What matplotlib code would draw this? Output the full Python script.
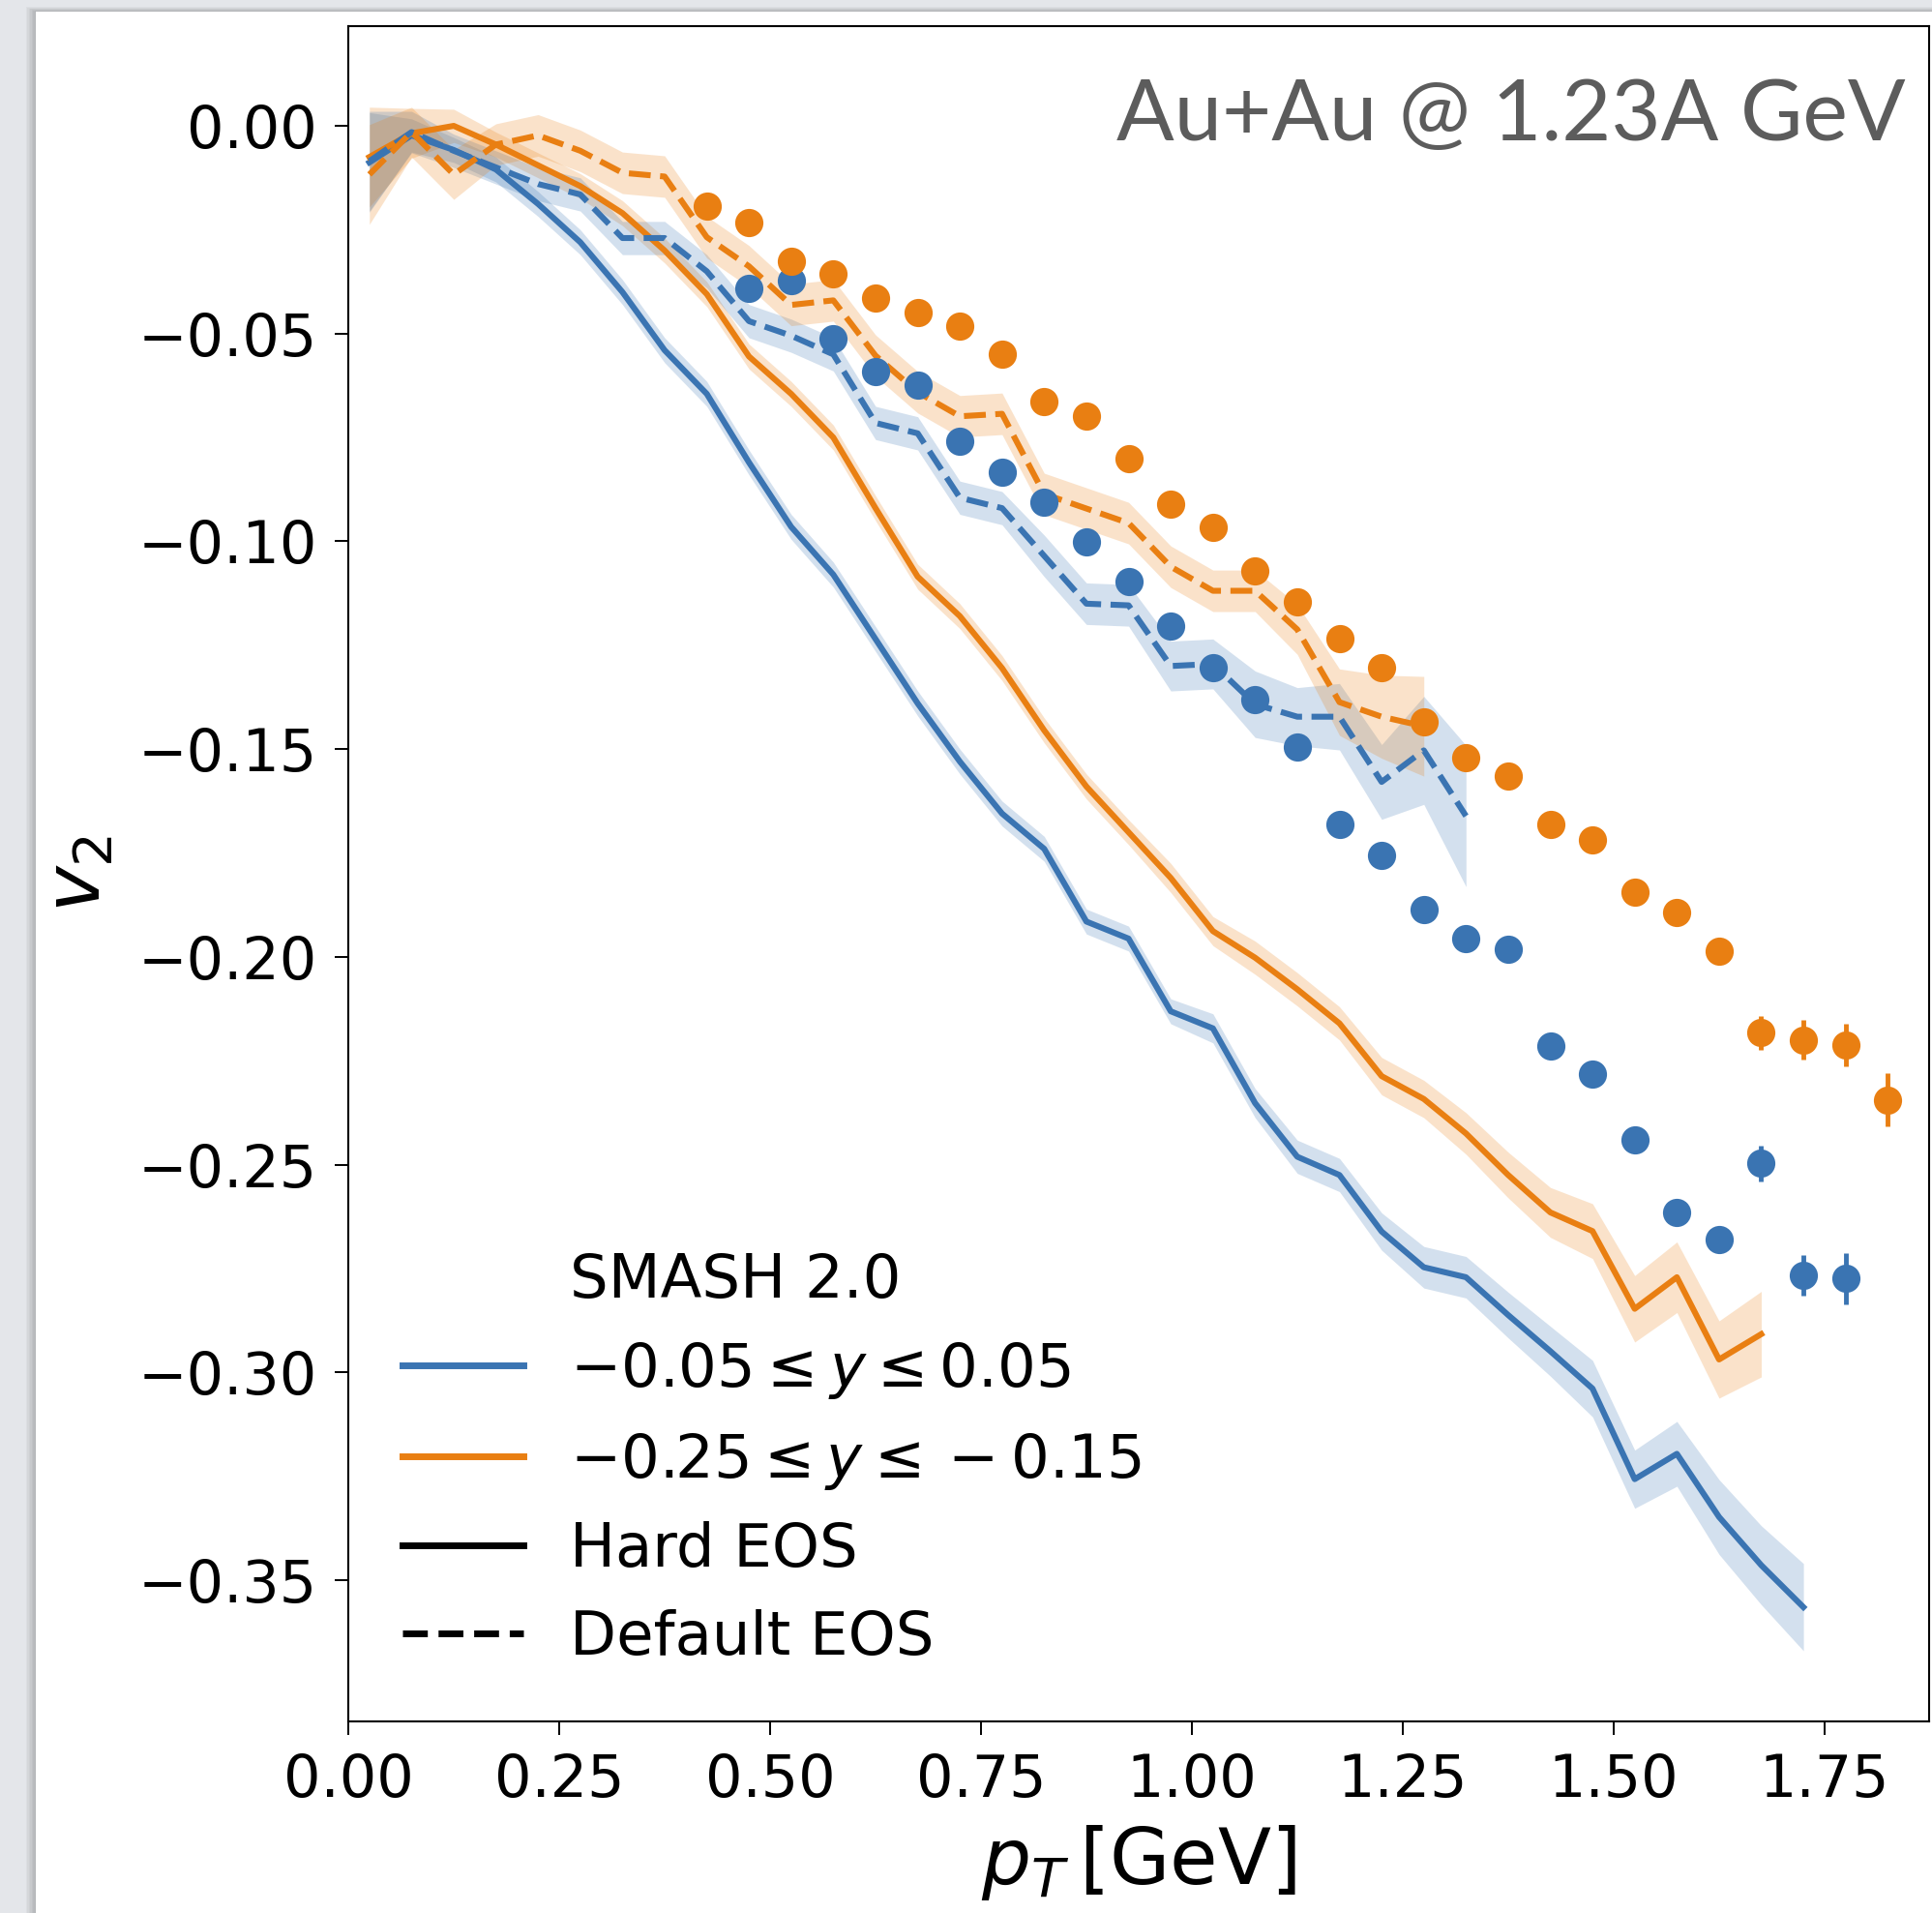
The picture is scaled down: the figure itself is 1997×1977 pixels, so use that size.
import matplotlib
matplotlib.use('Agg')
import matplotlib.pyplot as plt
from matplotlib.lines import Line2D
from matplotlib.patches import Rectangle

# colours
BLUE = '#3a74b2'
ORANGE = '#e97f12'

# pT bins of the SMASH curves [GeV]
pt = [0.025, 0.075, 0.125, 0.175, 0.225, 0.275, 0.325, 0.375, 0.425, 0.475,
      0.525, 0.575, 0.625, 0.675, 0.725, 0.775, 0.825, 0.875, 0.925, 0.975,
      1.025, 1.075, 1.125, 1.175, 1.225, 1.275, 1.325, 1.375, 1.425, 1.475,
      1.525, 1.575, 1.625, 1.675, 1.725]

# SMASH, hard EOS, -0.05 <= y <= 0.05
blue_hard = [-0.0088, -0.0023, -0.0058, -0.0105, -0.0188, -0.028, -0.040, -0.054, -0.0645, -0.081,
             -0.0965, -0.108, -0.1235, -0.139, -0.153, -0.1655, -0.174, -0.1915, -0.1956, -0.2131,
             -0.2172, -0.2352, -0.2481, -0.2525, -0.2661, -0.2747, -0.2771, -0.2862, -0.2949, -0.3039,
             -0.3257, -0.3196, -0.3348, -0.3464, -0.3565]
blue_hard_err = [0.012, 0.004, 0.003, 0.003, 0.003, 0.003, 0.003, 0.003, 0.003, 0.003,
                 0.003, 0.003, 0.003, 0.003, 0.003, 0.003, 0.003, 0.003, 0.003, 0.003,
                 0.0035, 0.0035, 0.004, 0.004, 0.0045, 0.005, 0.005, 0.0055, 0.006, 0.0068,
                 0.007, 0.0078, 0.009, 0.0095, 0.0105]

# SMASH, hard EOS, -0.25 <= y <= -0.15
orange_hard = [-0.0075, -0.0018, 0.0000, -0.0045, -0.0095, -0.0145, -0.021, -0.030, -0.0405, -0.0555,
               -0.0645, -0.075, -0.092, -0.1085, -0.118, -0.1305, -0.1455, -0.159, -0.170, -0.181,
               -0.1938, -0.2002, -0.2078, -0.216, -0.2287, -0.2342, -0.2425, -0.2525, -0.2615, -0.266,
               -0.2847, -0.2771, -0.2969, -0.2908]
orange_hard_err = [0.012, 0.006, 0.004, 0.003, 0.003, 0.003, 0.003, 0.003, 0.003, 0.003,
                   0.003, 0.003, 0.003, 0.003, 0.003, 0.003, 0.003, 0.003, 0.003, 0.0035,
                   0.0035, 0.004, 0.004, 0.004, 0.0045, 0.0045, 0.005, 0.0055, 0.006, 0.0066,
                   0.008, 0.0085, 0.0093, 0.0103]

# SMASH, default EOS, -0.05 <= y <= 0.05
blue_default = [-0.0085, -0.0015, -0.006, -0.010, -0.014, -0.0165, -0.027, -0.027, -0.035, -0.047,
                -0.0505, -0.055, -0.0715, -0.074, -0.0895, -0.092, -0.1035, -0.115, -0.1154, -0.1300,
                -0.1295, -0.1392, -0.1422, -0.1422, -0.1579, -0.1503, -0.1661]
blue_default_err = [0.012, 0.005, 0.004, 0.004, 0.004, 0.004, 0.004, 0.004, 0.004, 0.004,
                    0.004, 0.004, 0.004, 0.004, 0.004, 0.004, 0.005, 0.005, 0.005, 0.006,
                    0.006, 0.008, 0.007, 0.008, 0.009, 0.013, 0.017]

# SMASH, default EOS, -0.25 <= y <= -0.15
orange_default = [-0.0117, -0.0015, -0.0117, -0.0045, -0.0023, -0.006, -0.0113, -0.0122, -0.0268, -0.0338,
                  -0.0431, -0.0420, -0.0553, -0.0641, -0.0699, -0.0693, -0.0886, -0.0921, -0.0956, -0.1061,
                  -0.1119, -0.1119, -0.1212, -0.1387, -0.1422, -0.1445]
orange_default_err = [0.012, 0.006, 0.006, 0.005, 0.005, 0.005, 0.005, 0.005, 0.005, 0.005,
                      0.005, 0.005, 0.005, 0.005, 0.005, 0.005, 0.005, 0.005, 0.005, 0.005,
                      0.005, 0.005, 0.006, 0.008, 0.010, 0.012]

# measured points
blue_pt = [0.475, 0.525, 0.575, 0.625, 0.675, 0.725, 0.775, 0.825, 0.875, 0.925,
           0.975, 1.025, 1.075, 1.125, 1.175, 1.225, 1.275, 1.325, 1.375, 1.425,
           1.475, 1.525, 1.575, 1.625, 1.675, 1.725, 1.775]
blue_v2 = [-0.0390, -0.0373, -0.0513, -0.0592, -0.0624, -0.0758, -0.0833, -0.0906, -0.1002, -0.1096,
           -0.1204, -0.1305, -0.1381, -0.1494, -0.1681, -0.1756, -0.1886, -0.1955, -0.1981, -0.2214,
           -0.2282, -0.2440, -0.2615, -0.2681, -0.2497, -0.2766, -0.2774]
blue_v2_err = [0.0015, 0.0015, 0.0015, 0.0015, 0.0015, 0.0015, 0.0015, 0.0015, 0.0015, 0.0015,
               0.0015, 0.0015, 0.0015, 0.0015, 0.0015, 0.0015, 0.0015, 0.0015, 0.002, 0.002,
               0.002, 0.0025, 0.0025, 0.003, 0.0043, 0.0049, 0.0062]

orange_pt = [0.425, 0.475, 0.525, 0.575, 0.625, 0.675, 0.725, 0.775, 0.825, 0.875,
             0.925, 0.975, 1.025, 1.075, 1.125, 1.175, 1.225, 1.275, 1.325, 1.375,
             1.425, 1.475, 1.525, 1.575, 1.625, 1.675, 1.725, 1.775, 1.825]
orange_v2 = [-0.0192, -0.0233, -0.0326, -0.0355, -0.0414, -0.0449, -0.0481, -0.0550, -0.0664, -0.0699,
             -0.0801, -0.0911, -0.0967, -0.1070, -0.1145, -0.1235, -0.1303, -0.1434, -0.1520, -0.1564,
             -0.1682, -0.1718, -0.1844, -0.1892, -0.1987, -0.2183, -0.2200, -0.2212, -0.2344]
orange_v2_err = [0.0015, 0.0015, 0.0015, 0.0015, 0.0015, 0.0015, 0.0015, 0.0015, 0.0015, 0.0015,
                 0.0015, 0.0015, 0.0015, 0.0015, 0.0015, 0.0015, 0.0015, 0.0015, 0.002, 0.002,
                 0.002, 0.002, 0.0025, 0.0025, 0.003, 0.004, 0.0048, 0.0052, 0.0064]

W, H = 1997, 1977
fig = plt.figure(figsize=(W / 100, H / 100), dpi=100, facecolor='#e4e6ea')

# slide card with a soft shadow on the left / top
card_x, card_top = 37 / W, 1 - 12 / H
for i in range(1, 8):
    fig.patches.append(Rectangle((card_x - i * 1.5 / W, 0), 1, card_top + i * 0.7 / H,
                                 transform=fig.transFigure, facecolor='black',
                                 edgecolor='none', alpha=0.03, zorder=-2))
fig.patches.append(Rectangle((card_x, 0), 1, card_top, transform=fig.transFigure,
                             facecolor='white', edgecolor='none', zorder=-1))

ax = fig.add_axes([360 / W, 1 - 1779 / H, (1994 - 360) / W, (1779 - 27) / H])
ax.set_facecolor('white')

def band(x, y, e, c, ls):
    lo = [a - b for a, b in zip(y, e)]
    hi = [a + b for a, b in zip(y, e)]
    ax.fill_between(x, lo, hi, color=c, alpha=0.22, lw=0, zorder=1)
    ax.plot(x, y, color=c, lw=4.4, ls=ls, zorder=2)

band(pt, blue_hard, blue_hard_err, BLUE, '-')
band(pt[:len(orange_hard)], orange_hard, orange_hard_err, ORANGE, '-')
band(pt[:len(blue_default)], blue_default, blue_default_err, BLUE, '--')
band(pt[:len(orange_default)], orange_default, orange_default_err, ORANGE, '--')

ax.errorbar(blue_pt, blue_v2, yerr=blue_v2_err, fmt='o', color=BLUE, ms=21, mew=0,
            elinewidth=3.5, capsize=0, zorder=3)
ax.errorbar(orange_pt, orange_v2, yerr=orange_v2_err, fmt='o', color=ORANGE, ms=21, mew=0,
            elinewidth=3.5, capsize=0, zorder=3)

ax.set_xlim(0, 1.874)
ax.set_ylim(-0.384, 0.024)
ax.set_xticks([0.0, 0.25, 0.5, 0.75, 1.0, 1.25, 1.5, 1.75])
ax.set_yticks([0.0, -0.05, -0.10, -0.15, -0.20, -0.25, -0.30, -0.35])
ax.tick_params(labelsize=43.5, length=10, width=1.4, pad=13)
for s in ax.spines.values():
    s.set_linewidth(1.5)

ax.set_xlabel(r'$p_T\,[\mathrm{GeV}]$', fontsize=58, labelpad=10)
ax.set_ylabel(r'$v_2$', fontsize=58, labelpad=16)

handles = [Line2D([], [], ls='none'),
           Line2D([], [], color=BLUE, lw=5),
           Line2D([], [], color=ORANGE, lw=5),
           Line2D([], [], color='black', lw=5),
           Line2D([], [], color='black', lw=5, ls='--')]
labels = ['SMASH 2.0', r'$-0.05 \leq y \leq 0.05$', r'$-0.25 \leq y \leq -0.15$',
          'Hard EOS', 'Default EOS']
ax.legend(handles, labels, loc='lower left', frameon=False, fontsize=45,
          handlelength=2.0, handletextpad=0.77, labelspacing=0.49)

fig.text(1970 / W, 1 - 145 / H, 'Au+Au @ 1.23A GeV', ha='right', va='baseline',
         fontsize=63.5, color='#5c5c5c', family='Lato', weight='normal')

fig.savefig('out.png', dpi=100, facecolor=fig.get_facecolor())
